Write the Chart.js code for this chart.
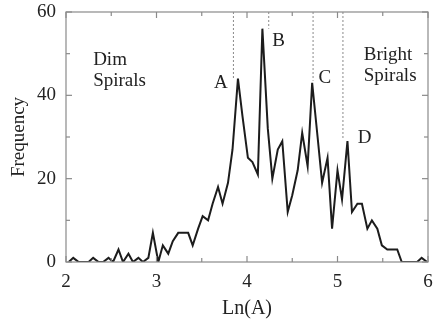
<!DOCTYPE html>
<html>
<head>
<meta charset="utf-8">
<script src="https://cdn.jsdelivr.net/npm/chart.js@4"></script>
<style>
  html, body { margin: 0; padding: 0; background: #fff; }
  #wrap { width: 441px; height: 321px; }
</style>
</head>
<body>
<div id="wrap"><canvas id="c"></canvas></div>
<script>
// bin centres, Ln(A)
const lnA = [
  2.03, 2.08, 2.14, 2.19, 2.25, 2.30, 2.36, 2.41, 2.47, 2.52,
  2.58, 2.63, 2.69, 2.74, 2.80, 2.85, 2.91, 2.96, 3.02, 3.07,
  3.13, 3.18, 3.24, 3.29, 3.35, 3.40, 3.46, 3.51, 3.57, 3.62,
  3.68, 3.73, 3.79, 3.84, 3.90, 3.95, 4.01, 4.06, 4.12, 4.17,
  4.23, 4.28, 4.34, 4.39, 4.45, 4.50, 4.56, 4.61, 4.67, 4.72,
  4.78, 4.83, 4.89, 4.94, 5.00, 5.05, 5.11, 5.16, 5.22, 5.27,
  5.33, 5.38, 5.44, 5.49, 5.55, 5.60, 5.66, 5.71, 5.77, 5.82,
  5.88, 5.93, 5.99
];
const frequency = [
  0, 1, 0, 0, 0, 1, 0, 0, 1, 0,
  3, 0, 2, 0, 1, 0, 1, 7, 0, 4,
  2, 5, 7, 7, 7, 4, 8, 11, 10, 14,
  18, 14, 19, 27, 44, 35, 25, 24, 21, 56,
  32, 20, 27, 29, 12, 16, 22, 31, 23, 43,
  30, 19, 25, 8, 22, 15, 29, 12, 14, 14,
  8, 10, 8, 4, 3, 3, 3, 0, 0, 0,
  0, 1, 0
];

const xTicks = [2, 3, 4, 5, 6];
const xMinor = [2.5, 3.5, 4.5, 5.5];
const yTicks = [0, 20, 40, 60];
const yMinor = [10, 30, 50];

// dotted markers for the peaks
const peakNames = ['A', 'B', 'C', 'D'];
const peakX = [3.85, 4.24, 4.73, 5.06];
const peakLow = [44, 56, 43.5, 29.3];
const peakTop = 60;
const peakLabelAt = [[3.71, 41.8], [4.35, 51.8], [4.86, 43.0], [5.30, 28.6]];

const regionText = [
  { lines: ['Dim', 'Spirals'], at: [2.30, 47.3] },
  { lines: ['Bright', 'Spirals'], at: [5.29, 48.5] }
];

const serif = '"Liberation Serif", "DejaVu Serif", serif';
const ink = '#222';
const frameCol = '#8a8a8a';

const datasets = [{
  data: lnA.map((v, i) => ({ x: v, y: frequency[i] })),
  borderColor: '#1c1c1c',
  borderWidth: 2,
  pointRadius: 0,
  tension: 0
}];
peakX.forEach((px, i) => {
  datasets.push({
    data: [{ x: px, y: peakTop }, { x: px, y: peakLow[i] }],
    borderColor: '#8a8a8a',
    borderWidth: 1,
    borderDash: [2, 2],
    pointRadius: 0
  });
});

const decor = {
  id: 'decor',
  afterDatasetsDraw(chart) {
    const { ctx, chartArea: a, scales: { x, y } } = chart;
    ctx.save();
    ctx.strokeStyle = frameCol;
    ctx.lineWidth = 1.2;
    ctx.strokeRect(a.left, a.top, a.width, a.height);
    const seg = (x1, y1, x2, y2) => {
      ctx.beginPath(); ctx.moveTo(x1, y1); ctx.lineTo(x2, y2); ctx.stroke();
    };
    const xt = (vals, len) => vals.forEach(v => {
      const p = x.getPixelForValue(v);
      seg(p, a.bottom, p, a.bottom - len);
      seg(p, a.top, p, a.top + len);
    });
    const yt = (vals, len) => vals.forEach(v => {
      const p = y.getPixelForValue(v);
      seg(a.left, p, a.left + len, p);
      seg(a.right, p, a.right - len, p);
    });
    xt(xTicks, 6); xt(xMinor, 4);
    yt(yTicks, 6); yt(yMinor, 4);

    ctx.fillStyle = ink;
    ctx.font = '19px ' + serif;
    ctx.textBaseline = 'alphabetic';
    ctx.textAlign = 'center';
    peakNames.forEach((n, i) => {
      ctx.fillText(n, x.getPixelForValue(peakLabelAt[i][0]), y.getPixelForValue(peakLabelAt[i][1]));
    });
    ctx.textAlign = 'left';
    regionText.forEach(r => {
      const px = x.getPixelForValue(r.at[0]);
      const py = y.getPixelForValue(r.at[1]);
      r.lines.forEach((t, j) => ctx.fillText(t, px, py + j * 21));
    });
    ctx.restore();
  }
};

new Chart(document.getElementById('c'), {
  type: 'line',
  data: { datasets },
  plugins: [decor],
  options: {
    responsive: true,
    maintainAspectRatio: false,
    animation: false,
    layout: { padding: { top: 12, right: 13, left: 0, bottom: 0 } },
    plugins: { legend: { display: false }, tooltip: { enabled: false } },
    scales: {
      x: {
        type: 'linear',
        min: 2, max: 6,
        afterFit: s => { s.height = 59; s.paddingLeft = 0; s.paddingRight = 0; },
        afterBuildTicks: s => { s.ticks = xTicks.map(v => ({ value: v })); },
        grid: { display: false, drawTicks: false },
        border: { display: false },
        ticks: { color: ink, font: { family: serif, size: 19 }, padding: 9, maxRotation: 0 },
        title: { display: true, text: 'Ln(A)', color: ink, font: { family: serif, size: 20 }, padding: { top: 4, bottom: 0 } }
      },
      y: {
        min: 0, max: 60,
        afterFit: s => { s.width = 66; s.paddingTop = 0; s.paddingBottom = 0; },
        afterBuildTicks: s => { s.ticks = yTicks.map(v => ({ value: v })); },
        grid: { display: false, drawTicks: false },
        border: { display: false },
        ticks: { color: ink, font: { family: serif, size: 19 }, padding: 10 },
        title: { display: true, text: 'Frequency', color: ink, font: { family: serif, size: 19 }, padding: { top: 8, bottom: 0 } }
      }
    }
  }
});
</script>
</body>
</html>
